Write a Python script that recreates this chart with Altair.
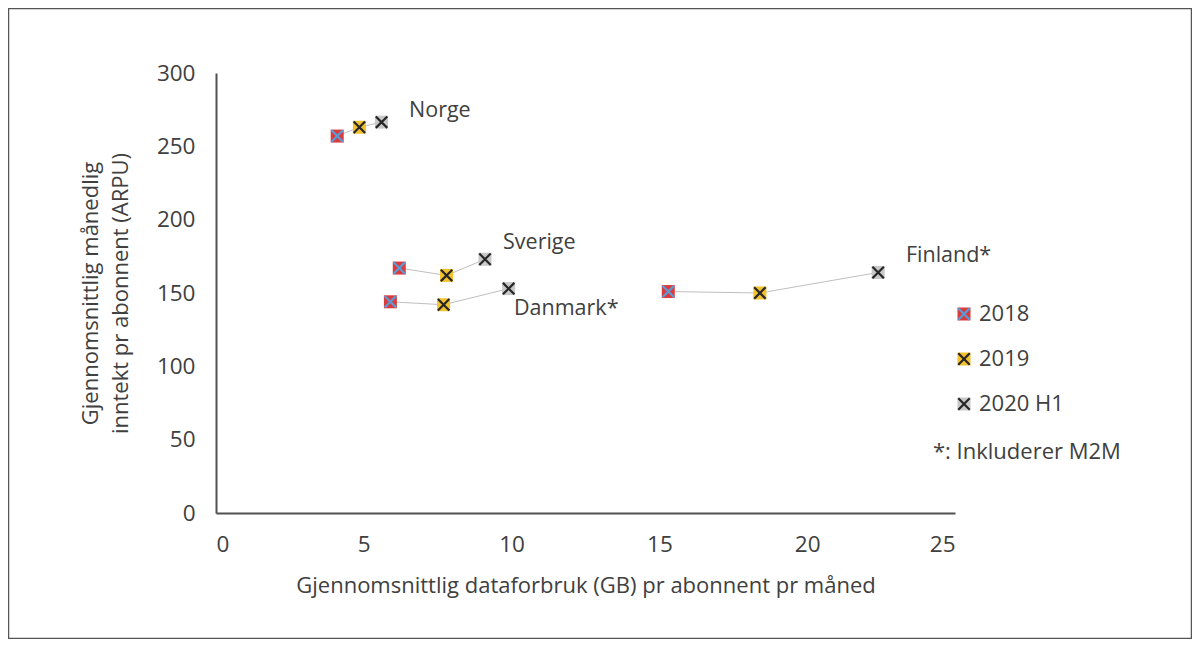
import altair as alt
import pandas as pd

# ---- data ----
countries = ["Norge", "Sverige", "Danmark*", "Finland*"]
years = ["2018", "2019", "2020 H1"]
gb_norge = [4.1, 4.85, 5.6]
gb_sverige = [6.2, 7.8, 9.1]
gb_danmark = [5.9, 7.7, 9.9]
gb_finland = [15.3, 18.4, 22.4]
arpu_norge = [257, 263, 266.5]
arpu_sverige = [167, 162, 173]
arpu_danmark = [144, 142, 153]
arpu_finland = [151, 150, 164]
label_x = [6.53, 9.71, 10.08, 23.34]
label_y = [274, 184, 139, 175]
x_ticks = [0, 5, 10, 15, 20, 25]
y_ticks = [0, 50, 100, 150, 200, 250, 300]
note = "*: Inkluderer M2M"

gb = [gb_norge, gb_sverige, gb_danmark, gb_finland]
arpu = [arpu_norge, arpu_sverige, arpu_danmark, arpu_finland]

rows = []
for c, g, a in zip(countries, gb, arpu):
    for i, (yr, gv, av) in enumerate(zip(years, g, a)):
        rows.append({"country": c, "year": yr, "yr": yr, "gb": gv, "arpu": av, "order": i})
df = pd.DataFrame(rows)
labels = pd.DataFrame({"country": countries, "lx": label_x, "ly": label_y})

W, H = 739, 440
FONT = "Open Sans"
TXT = "#404040"
FS = 22

x_enc = alt.X("gb:Q", scale=alt.Scale(domain=[0, 25], nice=False),
              axis=alt.Axis(values=x_ticks, title="Gjennomsnittlig dataforbruk (GB) pr abonnent pr måned",
                            titlePadding=20))
y_enc = alt.Y("arpu:Q", scale=alt.Scale(domain=[0, 300], nice=False),
              axis=alt.Axis(values=y_ticks,
                            title=["Gjennomsnittlig månedlig", "inntekt pr abonnent (ARPU)"],
                            titleAngle=-90, titleAlign="center", titleBaseline="top",
                            titleX=-136, titleY=H / 2, titleLineHeight=30))

base = alt.Chart(df)

lines = base.mark_line(color="#BFBFBF", strokeWidth=1).encode(
    x=x_enc, y=y_enc, detail="country:N", order="order:Q")

fill_scale = alt.Scale(domain=years, range=["#DC3B3E", "#F2C12E", "#C8C8C8"])
stroke_scale = alt.Scale(domain=years, range=["#5B9BD5", "#262626", "#262626"])

LEG_X, LEG_Y = 737, 230
XPATH = "M-0.88,-0.88L0.88,0.88M-0.88,0.88L0.88,-0.88"

squares = base.mark_point(shape="square", filled=True, size=169, opacity=1, strokeWidth=0).encode(
    x="gb:Q", y="arpu:Q",
    fill=alt.Fill("year:N", scale=fill_scale,
                  legend=alt.Legend(title=None, orient="none", legendX=LEG_X, legendY=LEG_Y,
                                    symbolType="square", symbolSize=169, symbolStrokeWidth=0,
                                    symbolOpacity=1,
                                    labelFont=FONT, labelFontSize=FS, labelColor=TXT,
                                    labelOffset=4, rowPadding=23, padding=0)))

crosses = base.mark_point(shape=XPATH, filled=False, size=169, opacity=1, strokeWidth=2.2).encode(
    x="gb:Q", y="arpu:Q",
    stroke=alt.Stroke("yr:N", scale=stroke_scale,
                      legend=alt.Legend(title=None, orient="none", legendX=LEG_X, legendY=LEG_Y,
                                        symbolType=XPATH, symbolSize=169, symbolStrokeWidth=2.2,
                                        symbolFillColor="transparent", symbolOpacity=1,
                                        labelFont=FONT, labelFontSize=FS, labelOpacity=0,
                                        labelOffset=4, rowPadding=23, padding=0)))

text = alt.Chart(labels).mark_text(align="left", baseline="middle", font=FONT,
                                   fontSize=21.5, color=TXT).encode(
    x="lx:Q", y="ly:Q", text="country:N")

note_t = alt.Chart(pd.DataFrame({"t": [note]})).mark_text(
    align="left", baseline="middle", font=FONT, fontSize=FS, color=TXT).encode(
    x=alt.value(717), y=alt.value(379), text="t:N")

frame = alt.Chart(pd.DataFrame({"a": [0]})).mark_rect(
    fill=None, stroke="#555555", strokeWidth=1.5).encode(
    x=alt.value(-207.5), x2=alt.value(W + 236.5), y=alt.value(-64.5), y2=alt.value(H + 125.5))

chart = alt.layer(frame, lines, squares, crosses, text, note_t).resolve_scale(
    fill="independent", stroke="independent"
).resolve_legend(fill="independent", stroke="independent").properties(
    width=W, height=H,
    autosize=alt.AutoSizeParams(type="none"),
    padding={"left": 208, "top": 65, "right": 237, "bottom": 126},
).configure_view(stroke=None).configure_axis(
    grid=False, ticks=False, domainColor="#505050", domainWidth=2,
    labelFont=FONT, labelFontSize=22.5, labelColor=TXT,
    titleFont=FONT, titleFontSize=FS, titleColor=TXT, titleFontWeight="normal",
).configure_axisX(labelPadding=20).configure_axisY(labelPadding=21)

chart.save("out.html", embed_options={"renderer": "svg", "actions": False})
